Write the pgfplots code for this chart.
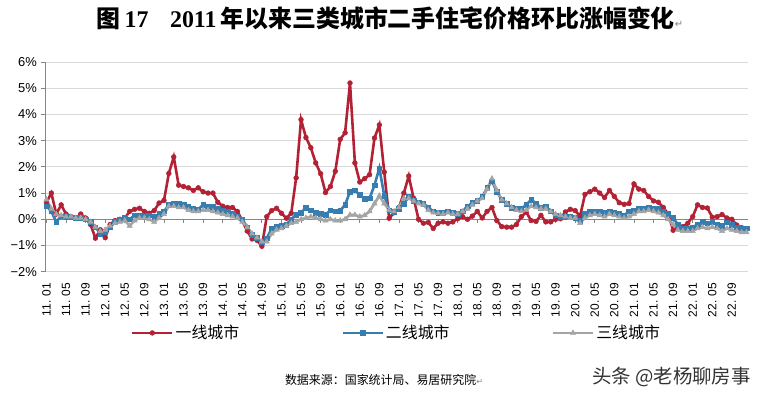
\documentclass[border=0pt]{standalone}
\usepackage{fontspec}
\setmainfont{Liberation Sans}
\newfontfamily\cjk{Noto Sans CJK SC}
\newfontfamily\serifb{Liberation Serif}
\newfontfamily\dejavu{DejaVu Sans}
\usepackage{pgfplots}
\usepackage{pgfplotstable}
\pgfplotsset{compat=1.18}
\definecolor{cA}{RGB}{178,34,52}
\definecolor{cB}{RGB}{55,125,175}
\definecolor{cC}{RGB}{165,165,165}
\definecolor{gridc}{RGB}{217,217,217}
\definecolor{axc}{RGB}{134,134,134}
\pgfplotstableread{
a b c
0.65 0.50 0.75
1.00 0.30 0.40
0.20 -0.10 0.20
0.55 0.12 0.15
0.20 0.10 0.10
0.10 0.08 0.10
0.05 0.05 0.05
0.20 0.05 0.05
0.05 0.00 0.00
-0.20 -0.10 -0.10
-0.72 -0.30 -0.30
-0.40 -0.55 -0.45
-0.70 -0.50 -0.40
-0.20 -0.30 -0.25
-0.05 -0.10 -0.15
0.00 0.00 -0.10
0.05 0.05 -0.05
0.30 0.00 -0.25
0.38 0.15 -0.05
0.42 0.15 0.05
0.30 0.10 0.05
0.23 0.15 0.00
0.33 0.10 -0.10
0.62 0.20 0.05
0.72 0.30 0.20
1.75 0.55 0.50
2.38 0.60 0.50
1.30 0.60 0.45
1.25 0.55 0.45
1.20 0.50 0.35
1.10 0.42 0.30
1.20 0.38 0.30
1.05 0.55 0.35
1.00 0.50 0.35
1.00 0.48 0.30
0.65 0.40 0.25
0.50 0.35 0.20
0.45 0.30 0.15
0.45 0.22 0.10
0.30 0.12 0.05
-0.05 0.00 -0.10
-0.45 -0.30 -0.30
-0.75 -0.60 -0.55
-0.80 -0.70 -0.70
-1.03 -0.88 -0.85
0.10 -0.72 -0.85
0.33 -0.35 -0.55
0.42 -0.28 -0.40
0.23 -0.25 -0.35
0.04 -0.20 -0.25
0.23 0.00 -0.15
1.58 0.17 -0.10
3.80 0.25 0.00
3.12 0.45 0.05
2.73 0.35 0.10
2.15 0.25 0.05
1.74 0.20 0.00
1.02 0.17 -0.05
1.25 0.35 0.00
1.83 0.30 -0.05
3.05 0.33 -0.05
3.30 0.55 0.00
5.20 1.05 0.17
2.15 1.10 0.17
1.42 0.93 0.10
1.55 0.78 0.15
1.70 0.80 0.30
3.10 1.30 0.60
3.60 1.95 0.90
1.80 0.90 0.60
0.04 0.35 0.35
0.25 0.28 0.30
0.45 0.40 0.45
1.00 0.60 0.80
1.65 0.85 0.80
0.80 0.70 0.70
0.00 0.65 0.60
-0.15 0.60 0.55
-0.12 0.45 0.35
-0.35 0.30 0.25
-0.15 0.25 0.23
-0.10 0.25 0.20
-0.15 0.30 0.25
-0.10 0.25 0.20
0.02 0.20 0.20
0.10 0.30 0.30
0.00 0.50 0.40
0.12 0.62 0.55
0.30 0.70 0.70
0.05 0.85 0.80
0.30 1.20 1.15
0.45 1.45 1.55
-0.05 1.05 1.10
-0.28 0.75 0.75
-0.30 0.60 0.60
-0.30 0.45 0.45
-0.20 0.40 0.35
0.10 0.40 0.30
0.27 0.55 0.35
-0.05 0.75 0.50
-0.08 0.60 0.45
0.15 0.45 0.40
-0.10 0.50 0.40
-0.10 0.30 0.30
0.00 0.15 0.20
0.02 0.10 0.15
0.28 0.10 0.10
0.38 0.10 0.05
0.33 0.05 0.05
0.12 -0.05 -0.15
0.95 0.20 0.05
1.05 0.30 0.15
1.15 0.30 0.20
1.00 0.30 0.15
0.83 0.25 0.10
1.10 0.30 0.20
0.87 0.25 0.15
0.63 0.20 0.10
0.57 0.15 0.05
0.60 0.30 0.10
1.35 0.35 0.20
1.15 0.42 0.30
1.10 0.42 0.30
0.87 0.45 0.35
0.70 0.42 0.30
0.65 0.40 0.25
0.45 0.30 0.15
0.20 0.20 0.00
-0.42 0.05 -0.20
-0.35 -0.20 -0.40
-0.28 -0.35 -0.45
-0.15 -0.35 -0.45
0.10 -0.30 -0.45
0.55 -0.20 -0.35
0.45 -0.10 -0.30
0.43 -0.15 -0.35
0.08 -0.10 -0.30
0.10 -0.20 -0.35
0.18 -0.25 -0.45
0.05 -0.12 -0.35
0.00 -0.20 -0.40
-0.22 -0.30 -0.45
-0.32 -0.35 -0.50
-0.38 -0.35 -0.50
}\datatable
\begin{document}
\begin{tikzpicture}
\useasboundingbox (0,0) rectangle (759bp,397bp);
\node[anchor=base,inner sep=0pt] at (390bp,369bp) {\fontsize{24}{26}\selectfont{\cjk\bfseries 图}\,{\serifb\bfseries 17}\hspace{0.9em}{\serifb\bfseries 2011}\,{\cjk\bfseries 年以来三类城市二手住宅价格环比涨幅变化}{\dejavu\fontsize{10}{10}\selectfont\color{gray}↵}};
\begin{axis}[
  at={(45bp,125.3bp)}, anchor=south west,
  scale only axis, width=703bp, height=209.7bp,
  xmin=-0.3, xmax=143.3, ymin=-2, ymax=6,
  clip=false,
  axis x line*=bottom, axis y line*=left,
  x axis line style={-, draw=gridc, line width=0.8bp},
  y axis line style={-, draw=axc, line width=0.8bp},
  ytick={-2,-1,0,1,2,3,4,5,6},
  yticklabels={−2\%,−1\%,0\%,1\%,2\%,3\%,4\%,5\%,6\%},
  xtick={0,4,...,140},
  xticklabels={11. 01,11. 05,11. 09,12. 01,12. 05,12. 09,13. 01,13. 05,13. 09,14. 01,14. 05,14. 09,15. 01,15. 05,15. 09,16. 01,16. 05,16. 09,17. 01,17. 05,17. 09,18. 01,18. 05,18. 09,19. 01,19. 05,19. 09,20. 01,20. 05,20. 09,21. 01,21. 05,21. 09,22. 01,22. 05,22. 09},
  tick align=outside, major tick length=4bp,
  xtick style={draw=none},
  ytick style={draw=axc, line width=0.8bp},
  ymajorgrids, major grid style={draw=gridc, line width=0.8bp},
  yticklabel style={font=\fontsize{13}{13}\selectfont, inner sep=0pt, xshift=-4bp},
  xticklabel style={font=\fontsize{12}{12}\selectfont, rotate=90, anchor=east, inner sep=0pt},
  xticklabel shift=7bp,
  legend style={at={(axis description cs:0.5,-0.292)}, anchor=center, draw=none, fill=none,
    legend columns=3, font=\cjk\fontsize{16}{18}\selectfont,
    /tikz/every even column/.append style={column sep=100bp}},
  legend image code/.code={\draw[mark repeat=2,mark phase=2,#1] plot coordinates {(0bp,0bp) (20bp,0bp) (40bp,0bp)};},
]
\draw[axc, line width=0.8bp] (axis cs:-0.3,0) -- (axis cs:143.3,0);
\pgfplotsinvokeforeach{0,4,...,140}{\draw[axc, line width=0.8bp] (axis cs:#1,0) -- ([yshift=-4bp]axis cs:#1,0);}
\addplot[cA, line width=2.6bp, mark=*, mark size=2.4bp, mark options={fill=cA, draw=cA, line width=0.5bp}] table[x expr=\coordindex, y=a] {\datatable};
\addlegendentry{一线城市}
\addplot[cB, line width=2.6bp, mark=square*, mark size=2.3bp, mark options={fill=cB, draw=cB, line width=0.5bp}] table[x expr=\coordindex, y=b] {\datatable};
\addlegendentry{二线城市}
\addplot[cC, line width=2.6bp, mark=triangle*, mark size=3bp, mark options={fill=cC, draw=cC, line width=0.5bp}] table[x expr=\coordindex, y=c] {\datatable};
\addlegendentry{三线城市}
\end{axis}
\node[anchor=base,inner sep=0pt] at (384bp,13bp) {\cjk\fontsize{12}{13}\selectfont 数据来源：国家统计局、易居研究院{\dejavu\fontsize{8}{8}\selectfont\color{gray}↵}};
\node[anchor=base east,inner sep=0pt,text=black!80] at (751bp,14bp) {\cjk\fontsize{19.5}{21}\selectfont 头条 @老杨聊房事};
\end{tikzpicture}
\end{document}
